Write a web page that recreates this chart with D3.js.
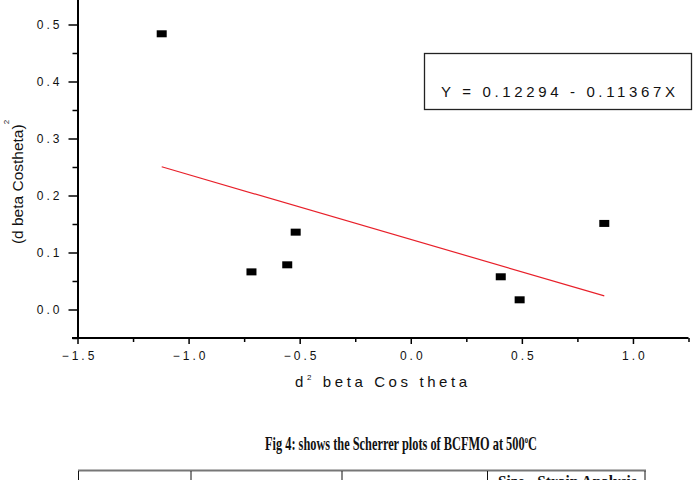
<!DOCTYPE html>
<html>
<head>
<meta charset="utf-8">
<script src="https://cdn.jsdelivr.net/npm/d3@7"></script>
<style>
  body { margin: 0; background: #fff; }
  svg { display: block; }
  .tick text { font-family: "Liberation Sans", Arial, sans-serif; font-size: 12px; letter-spacing: 3px; fill: #111; }
</style>
</head>
<body>
<script>
// Scherrer plot data
var xValues = [-1.121, -0.717, -0.556, -0.518, 0.405, 0.490, 0.871];
var yValues = [0.4837, 0.066, 0.0784, 0.1357, 0.0574, 0.017, 0.151];

// linear fit
var fitIntercept = 0.12294,
    fitSlope = -0.11367;
var fitLabel = "Y = 0.12294 - 0.11367X";

var xTicks = [-1.5, -1.0, -0.5, 0.0, 0.5, 1.0],
    xMinor = [-1.25, -0.75, -0.25, 0.25, 0.75, 1.25],
    yTicks = [0.0, 0.1, 0.2, 0.3, 0.4, 0.5],
    yMinor = [-0.05, 0.05, 0.15, 0.25, 0.35, 0.45];

var caption = "Fig 4: shows the Scherrer plots of BCFMO at 500";
var tableHead = "Size - Strain Analysis";

var width = 696,
    height = 480;

var svg = d3.select("body").append("svg")
    .attr("width", width)
    .attr("height", height);

var xScale = d3.scaleLinear().domain([-1.5, 1.25]).range([77.5, 688.5]);
var yScale = d3.scaleLinear().domain([-0.05, 0.55]).range([338, -4]);

var points = xValues.map(function(x, i) { return {x: x, y: yValues[i]}; });

// squeeze a text group horizontally so it spans w pixels from x
function fitWidth(g, x, w) {
    var bw = g.node().getBBox().width;
    g.attr("transform", "translate(" + x + ",0) scale(" + (w / bw) + ",1)");
}

// minor ticks first
svg.append("g")
    .attr("transform", "translate(0,338)")
    .call(d3.axisBottom(xScale).tickValues(xMinor).tickSize(4).tickSizeOuter(0).tickFormat(""))
    .call(function(g) { g.select(".domain").remove(); })
    .selectAll("line").attr("stroke-width", 1.5);

svg.append("g")
    .attr("transform", "translate(77.5,0)")
    .call(d3.axisLeft(yScale).tickValues(yMinor).tickSize(5).tickSizeOuter(0).tickFormat(""))
    .call(function(g) { g.select(".domain").remove(); })
    .selectAll("line").attr("stroke-width", 1.5);

// major axes
var xAxis = svg.append("g")
    .attr("transform", "translate(0,338)")
    .call(d3.axisBottom(xScale).tickValues(xTicks).tickSize(6).tickSizeOuter(0).tickPadding(5)
        .tickFormat(d3.format(".1f")));
xAxis.select(".domain").remove();
xAxis.selectAll("line").attr("stroke-width", 1.5);
xAxis.selectAll("text").attr("dx", "1.5px").attr("dy", "0.9em");

svg.append("line")
    .attr("x1", 72).attr("x2", 688.5)
    .attr("y1", 338).attr("y2", 338)
    .attr("stroke", "#000").attr("stroke-width", 2);

var yAxis = svg.append("g")
    .attr("transform", "translate(77.5,0)")
    .call(d3.axisLeft(yScale).tickValues(yTicks).tickSize(9).tickSizeOuter(0).tickPadding(6)
        .tickFormat(d3.format(".1f")));
yAxis.select(".domain").attr("stroke-width", 2);
yAxis.selectAll("line").attr("stroke-width", 1.5);

// fit line
var xExt = d3.extent(xValues);
svg.append("path")
    .datum(xExt.map(function(x) { return {x: x, y: fitIntercept + fitSlope * x}; }))
    .attr("d", d3.line()
        .x(function(d) { return xScale(d.x); })
        .y(function(d) { return yScale(d.y); }))
    .attr("stroke", "#e8202a")
    .attr("stroke-width", 1.2)
    .attr("fill", "none");

// markers
svg.selectAll(".pt")
    .data(points)
    .enter().append("rect")
    .attr("class", "pt")
    .attr("x", function(d) { return xScale(d.x) - 5; })
    .attr("y", function(d) { return yScale(d.y) - 3.5; })
    .attr("width", 10)
    .attr("height", 7)
    .attr("fill", "#000");

// equation box
svg.append("rect")
    .attr("x", 424.5).attr("y", 53.5)
    .attr("width", 267).attr("height", 56)
    .attr("fill", "#fff")
    .attr("stroke", "#222")
    .attr("stroke-width", 1.3);

svg.append("text")
    .attr("x", 441).attr("y", 97)
    .attr("textLength", 234)
    .attr("lengthAdjust", "spacing")
    .style("font-family", "Liberation Sans, Arial, sans-serif")
    .style("font-size", "15px")
    .attr("fill", "#111")
    .text(fitLabel);

// axis labels
var xlab = svg.append("text")
    .attr("x", 295).attr("y", 387)
    .style("font-family", "Liberation Sans, Arial, sans-serif")
    .style("font-size", "15px")
    .style("letter-spacing", "3.6px")
    .attr("fill", "#111");
xlab.append("tspan").text("d");
xlab.append("tspan").attr("dy", -7).style("font-size", "8px").text("2");
xlab.append("tspan").attr("dy", 7).text(" beta Cos theta");

var ylab = svg.append("text")
    .attr("transform", "translate(23,182) rotate(-90)")
    .attr("text-anchor", "middle")
    .style("font-family", "Liberation Sans, Arial, sans-serif")
    .style("font-size", "15.5px")
    .attr("fill", "#111");
ylab.append("tspan").text("(d beta Costheta)");
ylab.append("tspan").attr("dy", -14).style("font-size", "8px").text("2");

// caption
var capG = svg.append("g");
var cap = capG.append("text")
    .attr("x", 0).attr("y", 450)
    .style("font-family", "Liberation Serif, Times New Roman, serif")
    .style("font-weight", "bold")
    .style("font-size", "18.5px")
    .attr("fill", "#111");
cap.append("tspan").text(caption);
cap.append("tspan").attr("dy", -7).style("font-size", "10px").text("o");
cap.append("tspan").attr("dy", 7).text("C");
fitWidth(capG, 265, 272);

// table top
var tableCols = [78.5, 191, 342, 487.5, 645];
svg.append("line")
    .attr("x1", 78).attr("x2", 646)
    .attr("y1", 470.5).attr("y2", 470.5)
    .attr("stroke", "#777").attr("stroke-width", 2);
svg.selectAll(".col")
    .data(tableCols)
    .enter().append("line")
    .attr("class", "col")
    .attr("x1", function(d) { return d; }).attr("x2", function(d) { return d; })
    .attr("y1", 471).attr("y2", 480)
    .attr("stroke", "#111").attr("stroke-width", 1);

var headG = svg.append("g");
headG.append("text")
    .attr("x", 0).attr("y", 487.5)
    .style("font-family", "Liberation Serif, Times New Roman, serif")
    .style("font-weight", "bold")
    .style("font-size", "16px")
    .attr("fill", "#111")
    .text(tableHead);
fitWidth(headG, 498, 139);
</script>
</body>
</html>
